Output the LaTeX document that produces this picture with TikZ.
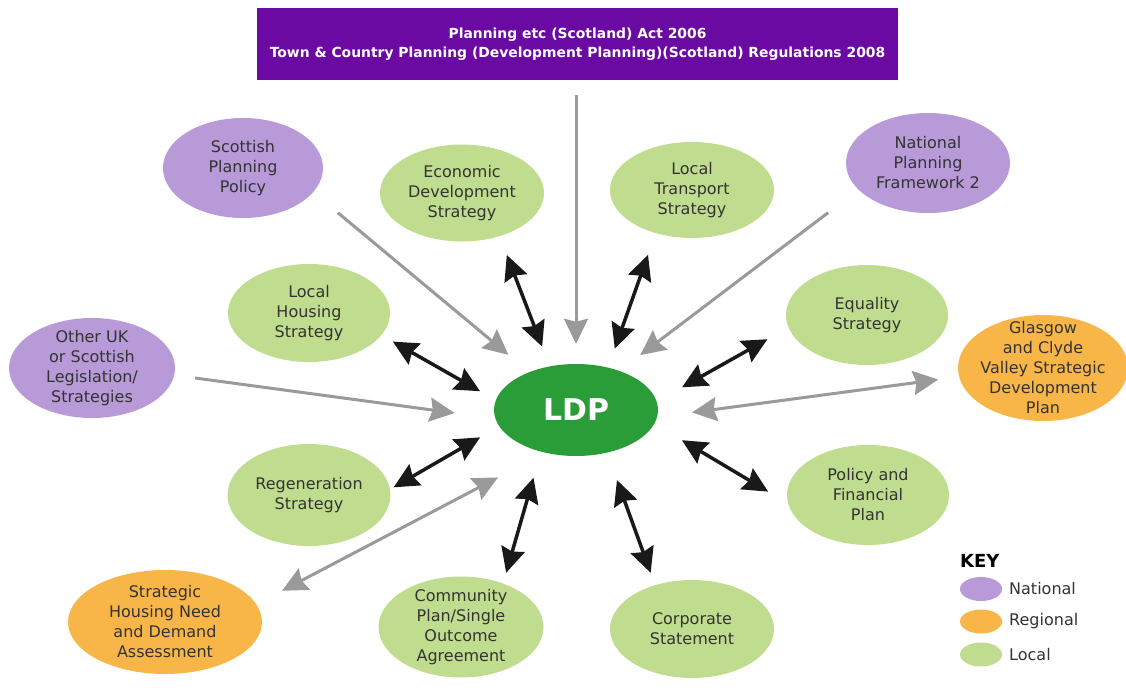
\documentclass[tikz,border=0pt]{standalone}
\usepackage{fontspec}
\setmainfont{DejaVu Sans}
\usetikzlibrary{shapes.geometric,arrows.meta}
\definecolor{titlec}{HTML}{6B0AA3}
\definecolor{natc}{HTML}{B89AD9}
\definecolor{regc}{HTML}{F8B648}
\definecolor{locc}{HTML}{C0DD8F}
\definecolor{ldpc}{HTML}{2A9D38}
\definecolor{txtc}{HTML}{333333}
\definecolor{grayarr}{HTML}{9A9A9A}
\tikzset{
  bubble/.style={ellipse, inner sep=-60pt, text=txtc, align=center,
    font=\fontsize{16}{20}\selectfont},
  natnode/.style={bubble, fill=natc},
  regnode/.style={bubble, fill=regc},
  locnode/.style={bubble, fill=locc},
  keyell/.style={ellipse, inner sep=0pt, minimum width=42pt, minimum height=24pt},
  keytext/.style={anchor=west, text=txtc, font=\fontsize{16}{20}\selectfont, inner sep=0pt},
  blkarr/.style={line width=3.5pt, draw=black!90, {Stealth[length=25pt,width=24pt,inset=3pt]}-{Stealth[length=25pt,width=24pt,inset=3pt]}},
  grayone/.style={line width=3pt, draw=grayarr, -{Stealth[length=25pt,width=24pt,inset=3pt]}},
  graytwo/.style={line width=3pt, draw=grayarr, {Stealth[length=25pt,width=24pt,inset=3pt]}-{Stealth[length=25pt,width=24pt,inset=3pt]}},
}
\begin{document}
\begin{tikzpicture}[x=1pt,y=-1pt]
\useasboundingbox (0,0) rectangle (1126,695);
\fill[white] (0,0) rectangle (1126,695);

% title
\node (title) [fill=titlec, minimum width=641pt, minimum height=72pt, inner sep=0pt,
  text=white, align=center, font=\bfseries\fontsize{13.9}{19}\selectfont]
  at (577.5,44) {Planning etc (Scotland) Act 2006\\Town \& Country Planning (Development Planning)(Scotland) Regulations 2008};

% central node
\node (ldp) [ellipse, fill=ldpc, minimum width=164pt, minimum height=92pt, inner sep=0pt,
  text=white, font=\bfseries\fontsize{30}{36}\selectfont] at (576,410) {LDP};

% national
\node (spp) [natnode, minimum width=160pt, minimum height=100pt] at (243,168) {Scottish\\Planning\\Policy};
\node (npf) [natnode, minimum width=164pt, minimum height=100pt] at (928,163) {National\\Planning\\Framework 2};
\node (other) [natnode, minimum width=166pt, minimum height=100pt] at (92,368) {Other UK\\or Scottish\\Legislation/\\Strategies};

% regional
\node (gcv) [regnode, minimum width=170pt, minimum height=106pt] at (1043,368) {Glasgow\\and Clyde\\Valley Strategic\\Development\\Plan};
\node (shnda) [regnode, minimum width=194pt, minimum height=104pt] at (165,622) {Strategic\\Housing Need\\and Demand\\Assessment};

% local
\node (econ) [locnode, minimum width=164pt, minimum height=97pt] at (462,193) {Economic\\Development\\Strategy};
\node (lts) [locnode, minimum width=164pt, minimum height=96pt] at (692,190) {Local\\Transport\\Strategy};
\node (lhs) [locnode, minimum width=162pt, minimum height=98pt] at (309,313) {Local\\Housing\\Strategy};
\node (eq) [locnode, minimum width=162pt, minimum height=100pt] at (867,315) {Equality\\Strategy};
\node (regen) [locnode, minimum width=163pt, minimum height=102pt] at (309,495) {Regeneration\\Strategy};
\node (pfp) [locnode, minimum width=162pt, minimum height=100pt] at (868,495) {Policy and\\Financial\\Plan};
\node (comm) [locnode, minimum width=165pt, minimum height=101pt] at (461,627) {Community\\Plan/Single\\Outcome\\Agreement};
\node (corp) [locnode, minimum width=164pt, minimum height=98pt] at (692,629) {Corporate\\Statement};

% gray one-way arrows into LDP
\draw[grayone, shorten <=15pt, shorten >=20pt] (title.south -| ldp.north) -- (ldp.north);
\draw[grayone, shorten <=32pt, shorten >=27pt] (spp.-19) -- (ldp.141);
\draw[grayone, shorten <=38pt, shorten >=26pt] (npf.201) -- (ldp.42);
\draw[grayone, shorten <=21pt, shorten >=41pt] (other.-5) -- (ldp.186);

% gray two-way arrows
\draw[graytwo, shorten <=35pt, shorten >=21pt] (ldp.-5) -- (gcv.186);
\draw[graytwo, shorten <=53pt, shorten >=29pt] (ldp.234) -- (shnda.11);

% black two-way arrows
\draw[blkarr, shorten <=20pt, shorten >=21pt] (econ.-49) -- (ldp.121);
\draw[blkarr, shorten <=23pt, shorten >=20pt] (lts.230) -- (ldp.53);
\draw[blkarr, shorten <=13pt, shorten >=18pt] (lhs.-17) -- (ldp.173);
\draw[blkarr, shorten <=29pt, shorten >=24pt] (ldp.6) -- (eq.189);
\draw[blkarr, shorten <=22pt, shorten >=4pt] (ldp.192) -- (regen.4);
\draw[blkarr, shorten <=32pt, shorten >=23pt] (ldp.-10) -- (pfp.186);
\draw[blkarr, shorten <=27pt, shorten >=11pt] (ldp.230) -- (comm.46);
\draw[blkarr, shorten <=29pt, shorten >=13pt] (ldp.-54) -- (corp.130);

% key
\node (keyt) [anchor=base west, inner sep=0pt, font=\bfseries\fontsize{18}{22}\selectfont] at (960,567) {KEY};
\node (kn) [keyell, fill=natc] at (981,589) {};
\node (kr) [keyell, fill=regc] at (981,621.5) {};
\node (kl) [keyell, fill=locc] at (981,654.5) {};
\node (knt) [keytext] at (1009,589) {National};
\node (krt) [keytext] at (1009,621.5) {Regional};
\node (klt) [keytext] at (1009,654.5) {Local};
\end{tikzpicture}
\end{document}
